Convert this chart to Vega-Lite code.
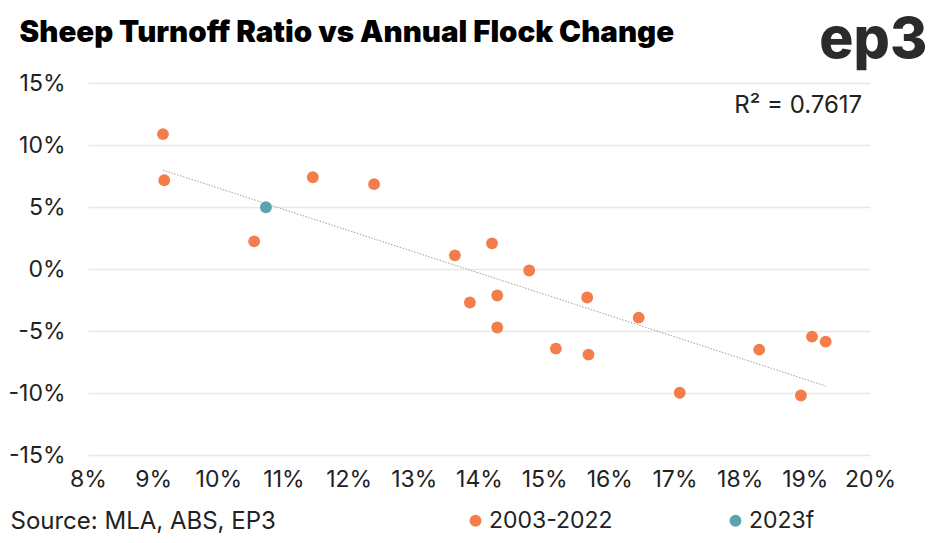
{
  "$schema": "https://vega.github.io/schema/vega-lite/v6.json",
  "autosize": "none",
  "width": 782,
  "height": 372,
  "padding": {"left": 88, "top": 83, "right": 77, "bottom": 88},
  "background": "white",
  "config": {
    "view": {"stroke": null},
    "font": "Inter"
  },
  "data": {
    "values": [
      {"turnoff": 9.15, "change": 10.88, "series": "2003-2022"},
      {"turnoff": 9.17, "change": 7.16, "series": "2003-2022"},
      {"turnoff": 10.73, "change": 4.98, "series": "2023f"},
      {"turnoff": 10.55, "change": 2.23, "series": "2003-2022"},
      {"turnoff": 11.45, "change": 7.40, "series": "2003-2022"},
      {"turnoff": 12.39, "change": 6.84, "series": "2003-2022"},
      {"turnoff": 13.63, "change": 1.10, "series": "2003-2022"},
      {"turnoff": 13.86, "change": -2.70, "series": "2003-2022"},
      {"turnoff": 14.20, "change": 2.07, "series": "2003-2022"},
      {"turnoff": 14.28, "change": -2.14, "series": "2003-2022"},
      {"turnoff": 14.28, "change": -4.72, "series": "2003-2022"},
      {"turnoff": 14.77, "change": -0.12, "series": "2003-2022"},
      {"turnoff": 15.18, "change": -6.42, "series": "2003-2022"},
      {"turnoff": 15.66, "change": -2.30, "series": "2003-2022"},
      {"turnoff": 15.68, "change": -6.90, "series": "2003-2022"},
      {"turnoff": 16.45, "change": -3.92, "series": "2003-2022"},
      {"turnoff": 17.08, "change": -9.98, "series": "2003-2022"},
      {"turnoff": 18.30, "change": -6.50, "series": "2003-2022"},
      {"turnoff": 18.94, "change": -10.20, "series": "2003-2022"},
      {"turnoff": 19.11, "change": -5.45, "series": "2003-2022"},
      {"turnoff": 19.32, "change": -5.86, "series": "2003-2022"}
    ]
  },
  "layer": [
    {
      "transform": [
        {"filter": "datum.series === '2003-2022'"},
        {"regression": "change", "on": "turnoff", "extent": [9.15, 19.32]}
      ],
      "mark": {"type": "line", "color": "#a0a0a0", "strokeWidth": 1, "strokeDash": [1.5, 1.5]},
      "encoding": {
        "x": {"field": "turnoff", "type": "quantitative"},
        "y": {"field": "change", "type": "quantitative"}
      }
    },
    {
      "mark": {"type": "circle", "size": 140, "opacity": 1},
      "encoding": {
        "x": {
          "field": "turnoff",
          "type": "quantitative",
          "scale": {"domain": [8, 20], "nice": false, "zero": false},
          "axis": {
            "title": "Source: MLA, ABS, EP3",
            "titleAnchor": "start",
            "titleAlign": "left",
            "titleX": -78,
            "titleY": 66,
            "titleBaseline": "middle",
            "titleFont": "Inter",
            "titleFontSize": 24,
            "titleFontWeight": "normal",
            "titleColor": "#222222",
            "values": [8, 9, 10, 11, 12, 13, 14, 15, 16, 17, 18, 19, 20],
            "labelExpr": "datum.value + '%'",
            "labelFlush": false,
            "labelOverlap": false,
            "grid": false,
            "domain": false,
            "ticks": false,
            "labelPadding": 13,
            "labelFontSize": 23,
            "labelColor": "#222222",
            "labelFont": "Inter"
          }
        },
        "y": {
          "field": "change",
          "type": "quantitative",
          "scale": {"domain": [-15, 15], "nice": false},
          "axis": {
            "title": null,
            "values": [-15, -10, -5, 0, 5, 10, 15],
            "labelExpr": "datum.value + '%'",
            "labelOverlap": false,
            "grid": true,
            "gridColor": "#e8e8e8",
            "gridWidth": 1.5,
            "domain": false,
            "ticks": false,
            "labelPadding": 23,
            "labelFontSize": 23,
            "labelColor": "#222222",
            "labelFont": "Inter"
          }
        },
        "color": {
          "field": "series",
          "type": "nominal",
          "scale": {"domain": ["2003-2022", "2023f"], "range": ["#F47E4B", "#5AA4AF"]},
          "legend": {
            "title": null,
            "orient": "none",
            "direction": "horizontal",
            "legendX": 376,
            "legendY": 426,
            "symbolType": "circle",
            "symbolSize": 140,
            "symbolOpacity": 1,
            "labelFontSize": 23,
            "labelFont": "Inter",
            "labelColor": "#222222",
            "labelOffset": 2,
            "columnPadding": 111
          }
        }
      }
    },
    {
      "data": {"values": [{}]},
      "mark": {"type": "text", "align": "left", "baseline": "alphabetic", "fontSize": 29.5, "font": "Inter", "fontWeight": 900, "color": "#000000"},
      "encoding": {
        "x": {"datum": 6.95, "type": "quantitative"},
        "y": {"datum": 18.33, "type": "quantitative"},
        "text": {"value": "Sheep Turnoff Ratio vs Annual Flock Change"}
      }
    },
    {
      "data": {"values": [{}]},
      "mark": {"type": "text", "align": "right", "baseline": "middle", "fontSize": 24, "font": "Inter", "color": "#222222"},
      "encoding": {
        "x": {"datum": 19.88, "type": "quantitative"},
        "y": {"datum": 13.15, "type": "quantitative"},
        "text": {"value": "R² = 0.7617"}
      }
    },
    {
      "data": {"values": [{}]},
      "mark": {"type": "text", "align": "right", "baseline": "alphabetic", "fontSize": 57, "font": "Inter", "fontWeight": 800, "color": "#2b2b2b"},
      "encoding": {
        "x": {"datum": 20.88, "type": "quantitative"},
        "y": {"datum": 17.0, "type": "quantitative"},
        "text": {"value": "ep3"}
      }
    }
  ]
}
